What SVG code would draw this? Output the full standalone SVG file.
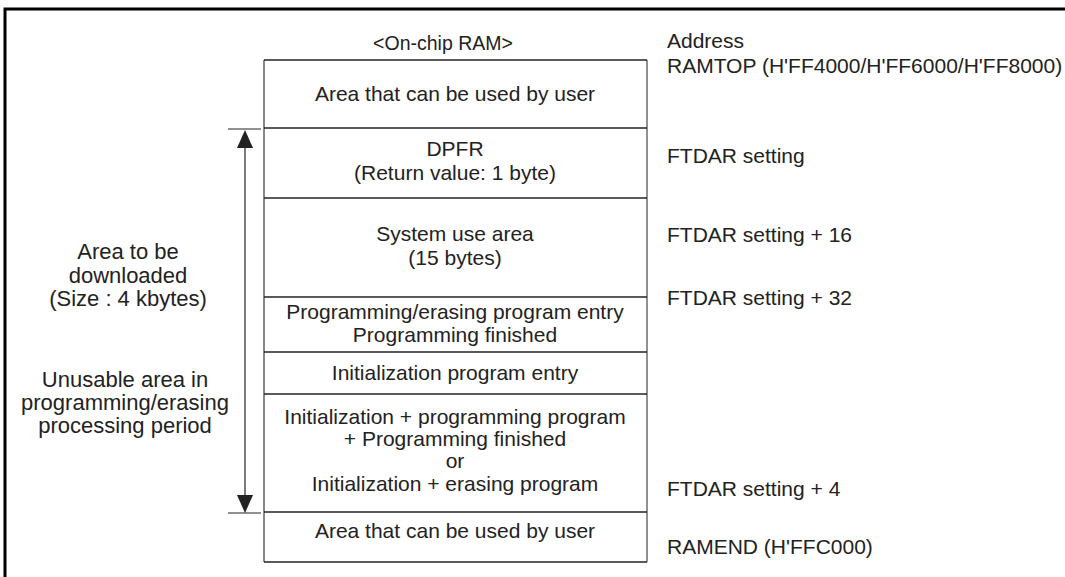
<svg xmlns="http://www.w3.org/2000/svg" width="1065" height="577" viewBox="0 0 1065 577">
<defs>
<style>
text{font-family:"Liberation Sans",Arial,sans-serif;font-size:21px;fill:#222}
.c{text-anchor:middle}
.lg{font-size:22px}
.row{stroke:#222;stroke-width:1.5;fill:none}
.ln{stroke:#222;stroke-width:1.2;fill:none}
.ah{fill:#222}
</style>
</defs>
<rect width="1065" height="577" fill="#fff"/>
<path d="M5,590 V9 H1075" fill="none" stroke="#000" stroke-width="3"/>
<text x="443" y="50" class="c" style="font-size:19.5px">&lt;On-chip RAM&gt;</text>
<text x="667" y="48">Address</text>
<text x="667" y="73">RAMTOP (H'FF4000/H'FF6000/H'FF8000)</text>
<g id="ram">
<line x1="264" y1="60" x2="264" y2="562" stroke="#888" stroke-width="2"/>
<line x1="647" y1="60" x2="647" y2="562" stroke="#222" stroke-width="1"/>
<line class="row" x1="264" y1="60" x2="647" y2="60"/>
<line class="row" x1="264" y1="562" x2="647" y2="562"/>
</g>
<g id="n1"><line class="row" x1="264" y1="128" x2="647" y2="128"/><text x="455" y="101" class="c">Area that can be used by user</text></g>
<g id="n2"><line class="row" x1="264" y1="198" x2="647" y2="198"/><text x="455" y="156" class="c">DPFR</text><text x="455" y="180" class="c">(Return value: 1 byte)</text></g>
<g id="n3"><line class="row" x1="264" y1="297" x2="647" y2="297"/><text x="455" y="241" class="c">System use area</text><text x="455" y="265" class="c">(15 bytes)</text></g>
<g id="n4"><line class="row" x1="264" y1="352" x2="647" y2="352"/><text x="455" y="319" class="c">Programming/erasing program entry</text><text x="455" y="342" class="c">Programming finished</text></g>
<g id="n5"><line class="row" x1="264" y1="394" x2="647" y2="394"/><text x="455" y="380" class="c">Initialization program entry</text></g>
<g id="n6"><line class="row" x1="264" y1="512" x2="647" y2="512"/><text x="455" y="424" class="c">Initialization + programming program</text><text x="455" y="446" class="c">+ Programming finished</text><text x="455" y="468" class="c">or</text><text x="455" y="491" class="c">Initialization + erasing program</text></g>
<g id="n7"><text x="455" y="538" class="c">Area that can be used by user</text></g>
<g id="addr">
<text x="667" y="163">FTDAR setting</text>
<text x="667" y="242">FTDAR setting + 16</text>
<text x="667" y="305">FTDAR setting + 32</text>
<text x="667" y="496">FTDAR setting + 4</text>
<text x="667" y="554">RAMEND (H'FFC000)</text>
</g>
<g id="left">
<text x="128" y="259" class="c lg">Area to be</text>
<text x="128" y="283" class="c lg">downloaded</text>
<text x="128" y="306" class="c lg">(Size : 4 kbytes)</text>
<text x="125" y="387" class="c lg">Unusable area in</text>
<text x="125" y="410" class="c lg">programming/erasing</text>
<text x="125" y="433" class="c lg">processing period</text>
</g>
<g id="connectors">
<line class="ln" x1="228" y1="129" x2="261" y2="129"/>
<line class="ln" x1="228" y1="513" x2="261" y2="513"/>
<line class="ln" x1="245" y1="140" x2="245" y2="503"/>
<polygon class="ah" points="245,130 253,148 237,148"/>
<polygon class="ah" points="245,513 253,495 237,495"/>
</g>
</svg>
